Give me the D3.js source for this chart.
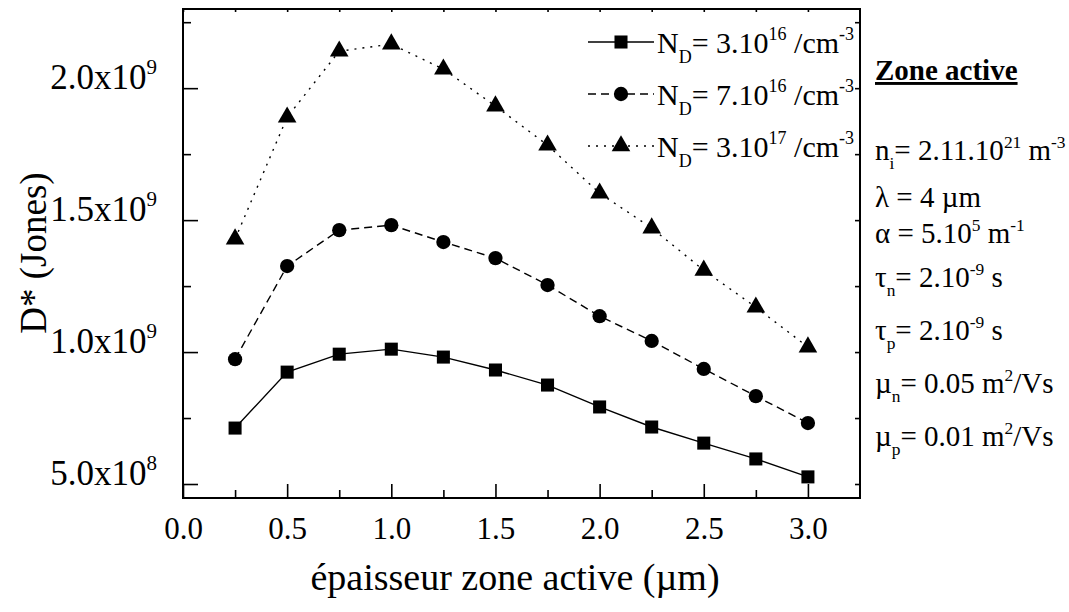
<!DOCTYPE html>
<html>
<head>
<meta charset="utf-8">
<script src="https://cdn.jsdelivr.net/npm/d3@7"></script>
<style>
  body { margin: 0; background: #fff; }
  svg text { font-family: "Times New Roman", "Liberation Serif", "DejaVu Serif", serif; }
</style>
</head>
<body>
<svg id="chart"></svg>
<script>
// chart data
const thickness = [0.25, 0.5, 0.75, 1.0, 1.25, 1.5, 1.75, 2.0, 2.25, 2.5, 2.75, 3.0];
const dNd3e16 = [7.12e8, 9.24e8, 9.92e8, 1.011e9, 9.81e8, 9.32e8, 8.75e8, 7.92e8, 7.16e8, 6.55e8, 5.95e8, 5.27e8];
const dNd7e16 = [9.73e8, 1.326e9, 1.462e9, 1.481e9, 1.417e9, 1.356e9, 1.254e9, 1.136e9, 1.042e9, 9.36e8, 8.33e8, 7.31e8];
const dNd3e17 = [1.428e9, 1.89e9, 2.14e9, 2.167e9, 2.072e9, 1.932e9, 1.784e9, 1.602e9, 1.47e9, 1.31e9, 1.17e9, 1.019e9];

const xMajor = [0, 0.5, 1.0, 1.5, 2.0, 2.5, 3.0];
const xMinor = [0.25, 0.75, 1.25, 1.75, 2.25, 2.75];
const yMajor = [5e8, 1e9, 1.5e9, 2e9];
const yMinor = [7.5e8, 1.25e9, 1.75e9, 2.25e9];

// legend texts: [text, kind] with kind "" | "sub" | "sup"
const legendLabels = [
  [["N", ""], ["D", "sub"], ["= 3.10", ""], ["16", "sup"], [" /cm", ""], ["-3", "sup"]],
  [["N", ""], ["D", "sub"], ["= 7.10", ""], ["16", "sup"], [" /cm", ""], ["-3", "sup"]],
  [["N", ""], ["D", "sub"], ["= 3.10", ""], ["17", "sup"], [" /cm", ""], ["-3", "sup"]]
];

const paramLines = [
  [["n", ""], ["i", "sub"], ["= 2.11.10", ""], ["21", "sup"], [" m", ""], ["-3", "sup"]],
  [["λ = 4 µm", ""]],
  [["α = 5.10", ""], ["5", "sup"], [" m", ""], ["-1", "sup"]],
  [["τ", ""], ["n", "sub"], ["= 2.10", ""], ["-9", "sup"], [" s", ""]],
  [["τ", ""], ["p", "sub"], ["= 2.10", ""], ["-9", "sup"], [" s", ""]],
  [["µ", ""], ["n", "sub"], ["= 0.05 m", ""], ["2", "sup"], ["/Vs", ""]],
  [["µ", ""], ["p", "sub"], ["= 0.01 m", ""], ["2", "sup"], ["/Vs", ""]]
];
const paramBaselines = [160, 207, 243, 287, 340, 393, 446];

const width = 1069, height = 612;
const plotLeft = 183, plotRight = 860, plotTop = 9, plotBottom = 498;
const serif = '"Times New Roman", "Liberation Serif", serif';

const svg = d3.select("#chart")
  .attr("width", width)
  .attr("height", height)
  .attr("viewBox", [0, 0, width, height]);

const x = d3.scaleLinear([0, 3.25], [plotLeft, plotRight]);
const y = d3.scaleLinear([4.47e8, 2.3e9], [plotBottom, plotTop]);

// writes a text made of normal / sub / sup pieces
function richText(sel, segs, size) {
  let shift = 0;
  segs.forEach(([t, kind]) => {
    const target = kind === "sub" ? size * 0.32 : kind === "sup" ? -size * 0.42 : 0;
    sel.append("tspan")
      .attr("dy", target - shift)
      .attr("font-size", kind ? size * 0.6 : size)
      .text(t);
    shift = target;
  });
}

// axes, ticks pointing inward
svg.append("g")
  .attr("transform", `translate(0,${plotBottom})`)
  .call(d3.axisBottom(x).tickValues(xMajor).tickSize(-14).tickPadding(19).tickFormat(d3.format(".1f")))
  .call(g => g.attr("font-family", serif).attr("font-size", 31))
  .call(g => g.select(".domain").remove())
  .call(g => g.selectAll(".tick text").attr("fill", "#000"));

svg.append("g")
  .attr("transform", `translate(0,${plotBottom})`)
  .call(d3.axisBottom(x).tickValues(xMinor).tickSize(-8).tickFormat(""))
  .call(g => g.select(".domain").remove());

svg.append("g")
  .attr("transform", `translate(${plotLeft},0)`)
  .call(d3.axisLeft(y).tickValues(yMajor).tickSize(-15).tickPadding(26))
  .call(g => g.attr("font-family", serif).attr("font-size", 35))
  .call(g => g.select(".domain").remove())
  .call(g => g.selectAll(".tick text").each(function(d) {
    const e = Math.floor(Math.log10(d));
    const m = d / Math.pow(10, e);
    const t = d3.select(this).text("")
      .attr("fill", "#000")
      .attr("dy", 12).attr("x", -26);
    richText(t, [[m.toFixed(1) + "x10", ""], [String(e), "sup"]], 35);
  }));

svg.append("g")
  .attr("transform", `translate(${plotLeft},0)`)
  .call(d3.axisLeft(y).tickValues(yMinor).tickSize(-8).tickFormat(""))
  .call(g => g.select(".domain").remove());

// mirrored short ticks on top and right
svg.append("g")
  .attr("transform", `translate(0,${plotTop})`)
  .call(d3.axisTop(x).tickValues(xMajor.concat(xMinor)).tickSize(-3).tickFormat(""))
  .call(g => g.select(".domain").remove());

svg.append("g")
  .attr("transform", `translate(${plotRight},0)`)
  .call(d3.axisRight(y).tickValues(yMajor.concat(yMinor)).tickSize(-5).tickFormat(""))
  .call(g => g.select(".domain").remove());

svg.selectAll(".tick line").attr("stroke", "#000").attr("stroke-width", 1.6);

svg.append("rect")
  .attr("x", plotLeft).attr("y", plotTop)
  .attr("width", plotRight - plotLeft).attr("height", plotBottom - plotTop)
  .attr("fill", "none").attr("stroke", "#000").attr("stroke-width", 2);

// series
const series = [
  { values: dNd3e16, dash: null, symbol: d3.symbolSquare, size: 170 },
  { values: dNd7e16, dash: "8,5", symbol: d3.symbolCircle, size: 160 },
  { values: dNd3e17, dash: "2,6", symbol: d3.symbolTriangle, size: 150 }
];

const line = d3.line()
  .x((d, i) => x(thickness[i]))
  .y(d => y(d));

series.forEach(s => {
  svg.append("path")
    .datum(s.values)
    .attr("fill", "none")
    .attr("stroke", "#000")
    .attr("stroke-width", 1.4)
    .attr("stroke-dasharray", s.dash)
    .attr("d", line);

  svg.append("g").selectAll("path")
    .data(s.values)
    .join("path")
    .attr("transform", (d, i) => `translate(${x(thickness[i])},${y(d)})`)
    .attr("d", d3.symbol(s.symbol, s.size))
    .attr("fill", "#000");
});

// legend
const legendRows = [42, 94, 146];
series.forEach((s, i) => {
  const ly = legendRows[i];
  svg.append("line")
    .attr("x1", 588).attr("x2", 654)
    .attr("y1", ly).attr("y2", ly)
    .attr("stroke", "#000").attr("stroke-width", 1.4)
    .attr("stroke-dasharray", s.dash);
  svg.append("path")
    .attr("transform", `translate(621,${ly})`)
    .attr("d", d3.symbol(s.symbol, s.size))
    .attr("fill", "#000");
  const t = svg.append("text")
    .attr("x", 657).attr("y", ly + 11)
    .attr("font-family", serif)
    .attr("font-size", 30);
  richText(t, legendLabels[i], 30);
});

// side notes
svg.append("text")
  .attr("x", 875).attr("y", 80)
  .attr("font-family", serif)
  .attr("font-size", 29)
  .attr("font-weight", "bold")
  .attr("text-decoration", "underline")
  .text("Zone active");

paramLines.forEach((segs, i) => {
  const t = svg.append("text")
    .attr("x", 875).attr("y", paramBaselines[i])
    .attr("font-family", serif)
    .attr("font-size", 29);
  richText(t, segs, 29);
});

// axis titles
svg.append("text")
  .attr("x", 515).attr("y", 590)
  .attr("text-anchor", "middle")
  .attr("font-family", serif)
  .attr("font-size", 38)
  .text("épaisseur zone active (µm)");

svg.append("text")
  .attr("transform", "translate(46,253) rotate(-90)")
  .attr("text-anchor", "middle")
  .attr("font-family", serif)
  .attr("font-size", 37)
  .text("D* (Jones)");
</script>
</body>
</html>
